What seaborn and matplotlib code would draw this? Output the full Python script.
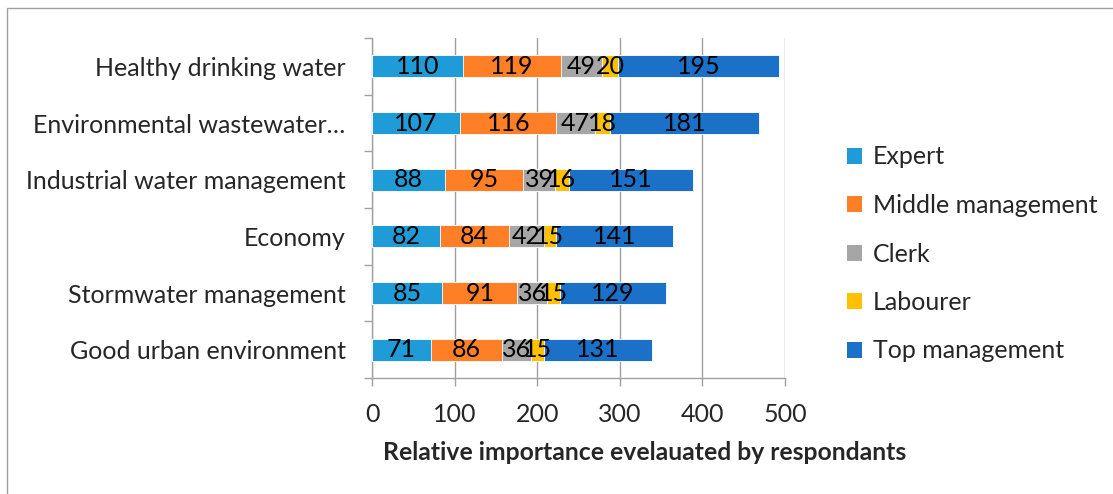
import numpy as np
import pandas as pd
import matplotlib
matplotlib.use("Agg")
import matplotlib.pyplot as plt
from matplotlib.patches import Rectangle, Patch
from matplotlib.ticker import FixedLocator
import seaborn as sns

categories = [
    "Healthy drinking water",
    "Environmental wastewater…",
    "Industrial water management",
    "Economy",
    "Stormwater management",
    "Good urban environment",
]
series_names = ["Expert", "Middle management", "Clerk", "Labourer", "Top management"]
expert = [110, 107, 88, 82, 85, 71]
middle = [119, 116, 95, 84, 91, 86]
clerk = [49, 47, 39, 42, 36, 36]
labourer = [20, 18, 16, 15, 15, 15]
top = [195, 181, 151, 141, 129, 131]
colors = ["#1F9CD8", "#FF7F27", "#A6A6A6", "#FFC000", "#1B70C8"]
x_ticks = [0, 100, 200, 300, 400, 500]

sns.set_theme(style="white")
plt.rcParams["font.family"] = ["Lato", "DejaVu Sans"]

values = np.array([expert, middle, clerk, labourer, top], dtype=float)
cum = np.cumsum(values, axis=0)

fig = plt.figure(figsize=(11.13, 4.94), dpi=100)
ax = fig.add_axes([372 / 1113, 1 - 378 / 494, (785 - 372) / 1113, (378 - 38) / 494])

# stacked bars: draw cumulative totals from the outermost segment inward
for i in range(len(series_names) - 1, -1, -1):
    df = pd.DataFrame({"category": categories, "value": cum[i]})
    sns.barplot(data=df, x="value", y="category", orient="y", color=colors[i],
                width=0.39, saturation=1, edgecolor="white", linewidth=0.6,
                ax=ax, zorder=3)

# segment value labels
for i in range(len(series_names)):
    for j, cat in enumerate(categories):
        start = cum[i][j] - values[i][j]
        ax.text(start + values[i][j] / 2, j, f"{int(values[i][j])}",
                ha="center", va="center", fontsize=18, color="black", zorder=5)

ax.set_xlim(0, 500)
ax.set_ylim(len(categories) - 0.5, -0.5)
ax.xaxis.set_major_locator(FixedLocator(x_ticks))
ax.set_xticklabels([str(t) for t in x_ticks])
ax.grid(axis="x", color="#A0A0A0", linewidth=1, zorder=0)
ax.set_axisbelow(True)
ax.set_xlabel("")
ax.set_ylabel("")

for s in ["top", "right"]:
    ax.spines[s].set_visible(False)
for s in ["left", "bottom"]:
    ax.spines[s].set_color("#A0A0A0")
    ax.spines[s].set_linewidth(1)

ax.tick_params(axis="x", which="major", length=6, width=1, color="#A0A0A0",
               labelsize=18, pad=12, bottom=True, direction="out")
ax.tick_params(axis="y", which="major", length=0, labelsize=18, pad=19)
ax.yaxis.set_minor_locator(FixedLocator(np.arange(-0.5, len(categories), 1.0)))
ax.tick_params(axis="y", which="minor", length=6, width=1, color="#A0A0A0",
               left=True, direction="out")

fig.text(645 / 1113, 1 - 452 / 494, "Relative importance evelauated by respondants",
         ha="center", va="center", fontsize=17.8, fontweight="bold")

handles = [Patch(facecolor=c, edgecolor="none") for c in colors]
fig.legend(handles, series_names, loc="center left",
           bbox_to_anchor=(824 / 1113, 1 - 254 / 494), frameon=False,
           fontsize=18, handlelength=0.6, handleheight=0.6, handletextpad=0.45,
           labelspacing=1.02)

fig.patches.append(Rectangle((7 / 1113, -0.05), 1.2, 1 - 8 / 494 + 0.05,
                             transform=fig.transFigure, fill=False,
                             edgecolor="#A0A0A0", linewidth=1))

fig.savefig("out.png", dpi=100)
